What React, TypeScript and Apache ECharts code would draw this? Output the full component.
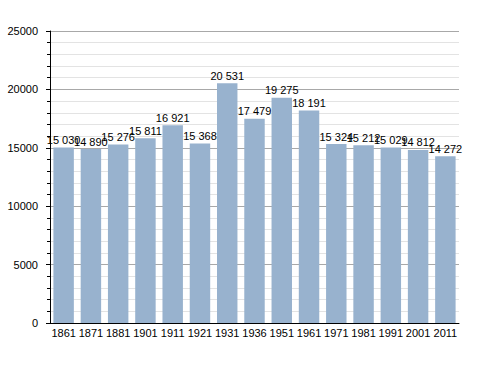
import React, { useEffect, useRef } from "react";
import * as echarts from "echarts";

const years = ["1861", "1871", "1881", "1901", "1911", "1921", "1931", "1936", "1951", "1961", "1971", "1981", "1991", "2001", "2011"];
const population = [15030, 14890, 15276, 15811, 16921, 15368, 20531, 17479, 19275, 18191, 15324, 15212, 15029, 14812, 14272];
const yTicks = { min: 0, max: 25000, interval: 5000 };

const FONT = "'Liberation Sans', Arial, sans-serif";
const fmt = (v: number) => String(v).replace(/\B(?=(\d{3})+(?!\d))/g, " ");

export default function App() {
  const ref = useRef<HTMLDivElement>(null);
  useEffect(() => {
    if (!ref.current) return;
    const chart = echarts.init(ref.current, null, { renderer: "svg" });
    chart.setOption({
      animation: false,
      backgroundColor: "#ffffff",
      grid: { left: 50, right: 29, top: 31, bottom: 50 },
      xAxis: {
        type: "category",
        data: years,
        axisLine: { lineStyle: { color: "#000", width: 1 } },
        axisTick: { show: false },
        axisLabel: { color: "#000", fontSize: 11, fontFamily: FONT, margin: 4, interval: 0 },
      },
      yAxis: {
        type: "value",
        min: yTicks.min,
        max: yTicks.max,
        interval: yTicks.interval,
        axisLine: { show: true, lineStyle: { color: "#000", width: 1 } },
        axisTick: { show: true, length: 4, lineStyle: { color: "#000" } },
        minorTick: { show: true, splitNumber: 5, length: 3, lineStyle: { color: "#000" } },
        splitLine: { show: true, lineStyle: { color: "#a8a8a8", width: 1 } },
        minorSplitLine: { show: true, lineStyle: { color: "#e3e3e3", width: 1 } },
        axisLabel: { color: "#000", fontSize: 11, fontFamily: FONT, margin: 12, formatter: (v: number) => String(v) },
      },
      series: [
        {
          type: "bar",
          data: population,
          barWidth: "75%",
          itemStyle: { color: "#98b2ce" },
          label: {
            show: true,
            position: "top",
            distance: 2,
            color: "#000",
            fontSize: 11,
            fontFamily: FONT,
            formatter: (p: any) => fmt(p.value),
          },
        },
      ],
    });
    return () => chart.dispose();
  }, []);
  return <div ref={ref} style={{ width: 488, height: 373, position: "absolute", left: 0, top: 0 }} />;
}
